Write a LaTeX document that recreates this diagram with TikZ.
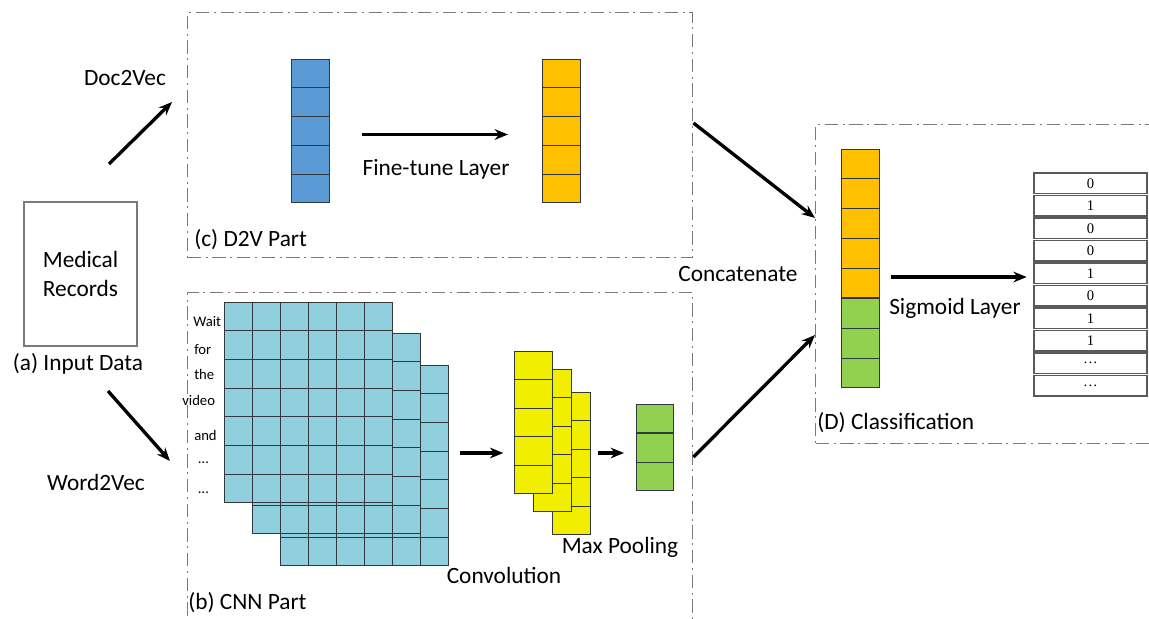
\documentclass[tikz,border=0pt]{standalone}
\usepackage{fontspec}
\setmainfont{Carlito}
\newfontfamily\digitfont{Liberation Serif}
\usepackage{xcolor}
\usepackage{tikz}
\usetikzlibrary{arrows.meta,positioning,calc}
\definecolor{boxgray}{HTML}{7A7A7A}
\definecolor{cellink}{HTML}{33383E}
\definecolor{d2vblue}{HTML}{5B9BD5}
\definecolor{d2vorange}{HTML}{FFC000}
\definecolor{poolgreen}{HTML}{92D050}
\definecolor{convyellow}{HTML}{F2EE00}
\definecolor{cnncyan}{HTML}{90D0DE}
\definecolor{outgray}{HTML}{5A5A5A}
\tikzset{
  >={Stealth[length=10pt,width=8pt]},
  part/.style={draw=boxgray, line width=1.1pt, dash pattern=on 10pt off 3.5pt on 1.5pt off 3.5pt,
    anchor=north west, inner sep=0pt},
  flow/.style={->, line width=2.5pt},
  cellbox/.style={draw=cellink, line width=.8pt, anchor=north west, inner sep=0pt},
  cellline/.style={cellink, line width=.8pt},
  outcell/.style={draw=outgray, line width=.9pt, minimum width=84.75pt, minimum height=15.4pt,
    inner sep=0pt, font=\digitfont\fontsize{11}{13}\selectfont},
  lbl/.style={font=\fontsize{17.5}{20}\selectfont, inner sep=0pt},
  word/.style={font=\fontsize{11}{13}\selectfont, anchor=west, inner sep=0pt}
}

\begin{document}
\begin{tikzpicture}[x=0.75pt,y=-0.75pt]
  \useasboundingbox (0,0) rectangle (1149,618);
  \clip (0,0) rectangle (1149,618);

  % dashed part frames
  \node[part,minimum width=378.75pt,minimum height=183.75pt] (d2v) at (187,12) {};
  \node[part,minimum width=378.75pt,minimum height=249.75pt] (cnn) at (187,292) {};
  \node[part,minimum width=258.75pt,minimum height=239.25pt] (cls) at (815,124) {};

  % input
  \node[draw=boxgray,line width=.8pt,minimum width=84.75pt,minimum height=108pt,
    align=center,lbl] (input) at (80.5,274) {Medical\\[2pt]Records};
  \node[lbl] (inlbl) at (78,364) {(a) Input Data};
  \node[lbl] (doclbl) at (125,78) {Doc2Vec};
  \node[lbl] (wordlbl) at (96,482) {Word2Vec};
  \coordinate (docfrom) at (109,164);
  \coordinate (docto) at (172,102);
  \coordinate (wordfrom) at (108,391);
  \coordinate (wordto) at (170,461);
  \draw[flow] (docfrom) -- (docto);
  \draw[flow] (wordfrom) -- (wordto);

  % D2V part
  \node[cellbox,fill=d2vblue,minimum width=28.5pt,minimum height=107.25pt] (docvec) at (291,59) {};
  \node[cellbox,fill=d2vorange,minimum width=28.5pt,minimum height=107.25pt] (finevec) at (542,59) {};
  \foreach \v in {docvec,finevec}
    \foreach \i in {1,...,4}
      \draw[cellline] ($(\v.north west)!\i/5!(\v.south west)$) -- ($(\v.north east)!\i/5!(\v.south east)$);
  \draw[flow] ([xshift=24pt,yshift=-2.6pt]docvec.east) -- ([xshift=-25.5pt,yshift=-2.6pt]finevec.west);
  \node[lbl] (finelbl) at (436,169) {Fine-tune Layer};
  \node[lbl,anchor=west] (d2vlbl) at (194,240) {(c) D2V Part};

  % CNN part
  \foreach \g/\gx/\gy in {gridc/280/365, gridb/252/333, grida/224/302}{
    \node[cellbox,fill=cnncyan,minimum width=126pt,minimum height=150pt] (\g) at (\gx,\gy) {};
    \foreach \c in {1,...,5}
      \draw[cellline] ($(\g.north west)!\c/6!(\g.north east)$) -- ($(\g.south west)!\c/6!(\g.south east)$);
    \foreach \r in {1,...,6}
      \draw[cellline] ($(\g.north west)!\r/7!(\g.south west)$) -- ($(\g.north east)!\r/7!(\g.south east)$);
  }
  \foreach \wx/\wy/\w in {193/322/Wait, 194/350/for, 194/374/the, 182/400/video,
                          194/435/and, 198/463/\ldots, 198/493/\ldots}
    \node[word] at (\wx,\wy) {\w};

  \foreach \y/\yx/\yy in {convc/552/392, convb/533/369, conva/514/351}{
    \node[cellbox,fill=convyellow,minimum width=28.5pt,minimum height=106.5pt] (\y) at (\yx,\yy) {};
    \foreach \i in {1,...,4}
      \draw[cellline] ($(\y.north west)!\i/5!(\y.south west)$) -- ($(\y.north east)!\i/5!(\y.south east)$);
  }
  \node[cellbox,fill=poolgreen,minimum width=28pt,minimum height=64.5pt] (poolvec) at (636,404) {};
  \foreach \i in {1,2}
    \draw[cellline] ($(poolvec.north west)!\i/3!(poolvec.south west)$) -- ($(poolvec.north east)!\i/3!(poolvec.south east)$);
  \draw[flow] ([xshift=8pt]gridc.east |- 0,453) -- ([xshift=-8pt]conva.west |- 0,453);
  \draw[flow] ([xshift=5pt]convc.east |- 0,453) -- ([xshift=-9pt]poolvec.west |- 0,453);
  \node[lbl] (convlbl) at (504,575) {Convolution};
  \node[lbl] (poollbl) at (620,547) {Max Pooling};
  \node[lbl,anchor=west] (cnnlbl) at (188,603) {(b) CNN Part};

  % classification
  \node[cellbox,fill=d2vorange,minimum width=28.5pt,minimum height=111pt] (catorange) at (841,149) {};
  \node[cellbox,fill=poolgreen,minimum width=28.5pt,minimum height=66.75pt] (catgreen) at (catorange.south west) {};
  \foreach \i in {1,...,4}
    \draw[cellline] ($(catorange.north west)!\i/5!(catorange.south west)$) -- ($(catorange.north east)!\i/5!(catorange.south east)$);
  \foreach \i in {1,2}
    \draw[cellline] ($(catgreen.north west)!\i/3!(catgreen.south west)$) -- ($(catgreen.north east)!\i/3!(catgreen.south east)$);
  \foreach \v [count=\k from 0] in {0,1,0,0,1,0,1,1,\ldots,\ldots}
    \node[outcell] (out\k) at (1090.5,183.25+22.5*\k) {\v};
  \draw[flow] (d2v.east |- 0,123) -- (cls.west |- 0,218);
  \draw[flow] (cnn.east |- 0,457) -- (cls.west |- 0,335);
  \draw[flow] ([xshift=8pt]catorange.east |- 0,277) -- ([xshift=-5pt]out4.west |- 0,277);
  \node[lbl] (catlbl) at (738,274) {Concatenate};
  \node[lbl] (siglbl) at (955,308) {Sigmoid Layer};
  \node[lbl,anchor=west] (clslbl) at (817,423) {(D) Classification};
\end{tikzpicture}
\end{document}
